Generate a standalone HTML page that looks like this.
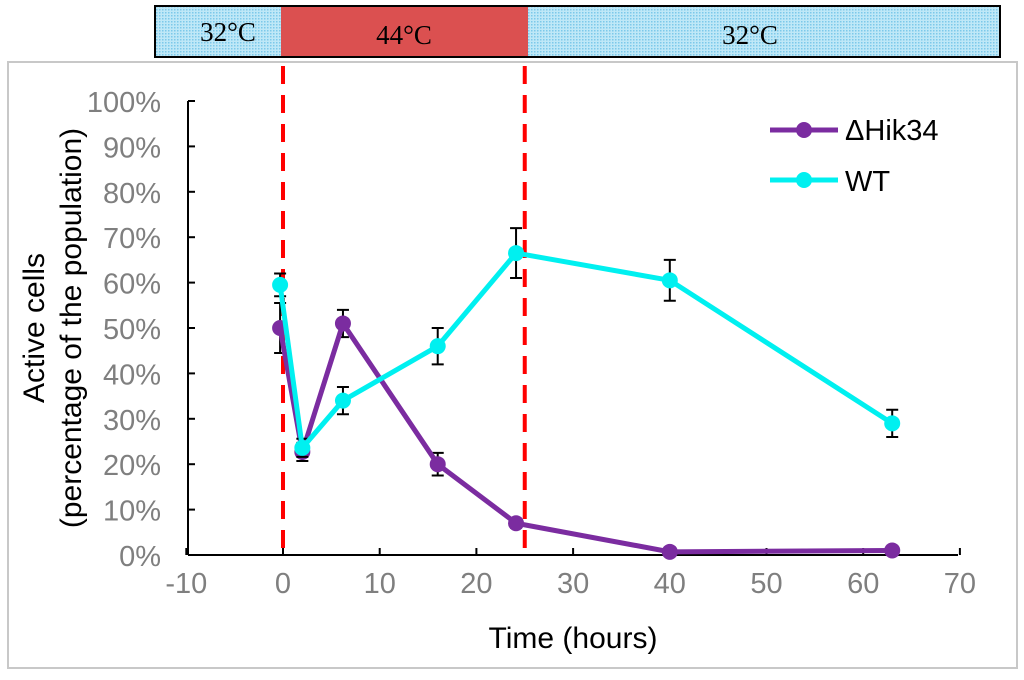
<!DOCTYPE html>
<html><head><meta charset="utf-8"><style>
body{margin:0;background:#fff;width:1024px;height:675px;overflow:hidden;font-family:"Liberation Sans",sans-serif}
</style></head><body>
<svg width="1024" height="675" xmlns="http://www.w3.org/2000/svg">
<defs><pattern id="dots" width="3" height="3" patternUnits="userSpaceOnUse"><rect width="3" height="3" fill="#bfe8f7"/><rect width="1.5" height="1.5" fill="#7cc9ea"/></pattern></defs>
<rect x="8" y="62" width="1009" height="606" fill="#fff" stroke="#c8c8c8" stroke-width="2"/>
<g>
<rect x="155" y="6" width="845" height="51" fill="url(#dots)" stroke="#000" stroke-width="2"/>
<rect x="281" y="7" width="247" height="49" fill="#db5050"/>
<text x="228" y="41" font-family="Liberation Serif,serif" font-size="27" text-anchor="middle">32°C</text>
<text x="404" y="44" font-family="Liberation Serif,serif" font-size="27" text-anchor="middle">44°C</text>
<text x="750" y="44" font-family="Liberation Serif,serif" font-size="27" text-anchor="middle">32°C</text>
</g>
<g id="axes"></g>
<g id="marks"></g>
<text x="573" y="648" font-size="30" text-anchor="middle">Time (hours)</text>
<g transform="translate(44,328) rotate(-90)">
<text x="0" y="0" font-size="30" text-anchor="middle">Active cells</text>
<text x="0" y="37" font-size="30" text-anchor="middle">(percentage of the population)</text>
</g>
<g>
<g><line x1="770" y1="130" x2="838" y2="130" stroke="#7b2ca0" stroke-width="5"/><circle cx="804" cy="130" r="8" fill="#7b2ca0"/><text x="845" y="140" font-size="29">ΔHik34</text></g>
<g><line x1="770" y1="180" x2="838" y2="180" stroke="#00f0f0" stroke-width="5"/><circle cx="804" cy="180" r="8" fill="#00f0f0"/><text x="845" y="191" font-size="29">WT</text></g>
</g>
</svg>
<script>
const xTicks=[-10,0,10,20,30,40,50,60,70];
const yTicks=[0,10,20,30,40,50,60,70,80,90,100];
const times=[-0.3,2,6.2,16,24.1,40,63];
const hik=[50,22.7,51,20,7,0.7,1];
const hikErr=[5.5,2,3,2.5,1,0,0];
const wt=[59.5,23.6,34,46,66.5,60.5,29];
const wtErr=[2.5,2,3,4,5.5,4.5,3];
const heatLines=[0,25];
const X=v=>283+v*9.67, Y=v=>555-v*4.54;
const NS="http://www.w3.org/2000/svg";
function mk(p,t,a){const e=document.createElementNS(NS,t);for(const k in a)e.setAttribute(k,a[k]);p.appendChild(e);return e;}
const ax=document.getElementById('axes'), mg=document.getElementById('marks');
const xa=mk(ax,'line',{x1:188,y1:555,x2:958,y2:555,stroke:'#000','stroke-width':2});


const ya=mk(ax,'line',{x1:188,y1:101,x2:188,y2:555,stroke:'#000','stroke-width':2});


xTicks.forEach(v=>{mk(ax,'line',{x1:X(v),y1:548,x2:X(v),y2:555,stroke:'#000','stroke-width':2});
const t=mk(ax,'text',{x:X(v),y:593,'font-size':29,fill:'#7f7f7f','text-anchor':'middle'});t.textContent=v;

});
yTicks.forEach(v=>{mk(ax,'line',{x1:188,y1:Y(v),x2:195,y2:Y(v),stroke:'#000','stroke-width':2});
const t=mk(ax,'text',{x:161,y:Y(v)+11,'font-size':29,fill:'#7f7f7f','text-anchor':'end'});t.textContent=v+'%';

});
heatLines.forEach(v=>{const l=mk(mg,'line',{x1:X(v),y1:66,x2:X(v),y2:555,stroke:'#ff0000','stroke-width':4,'stroke-dasharray':'18 11'});

});
function series(vals,errs,col,name){
const g=mk(mg,'g',{});


vals.forEach((v,i)=>{if(errs[i]>0){const x=X(times[i]),a=Y(v+errs[i]),b=Y(v-errs[i]);
mk(g,'path',{d:`M${x-6},${a}H${x+6}M${x},${a}V${b}M${x-6},${b}H${x+6}`,stroke:'#000','stroke-width':2,fill:'none'});}});
const pl=mk(g,'polyline',{points:vals.map((v,i)=>X(times[i])+','+Y(v)).join(' '),fill:'none',stroke:col,'stroke-width':5});


vals.forEach((v,i)=>{const c=mk(g,'circle',{cx:X(times[i]),cy:Y(v),r:8,fill:col});

});
}
series(hik,hikErr,'#7b2ca0','hik34');
series(wt,wtErr,'#00f0f0','wt');
</script>
</body></html>
